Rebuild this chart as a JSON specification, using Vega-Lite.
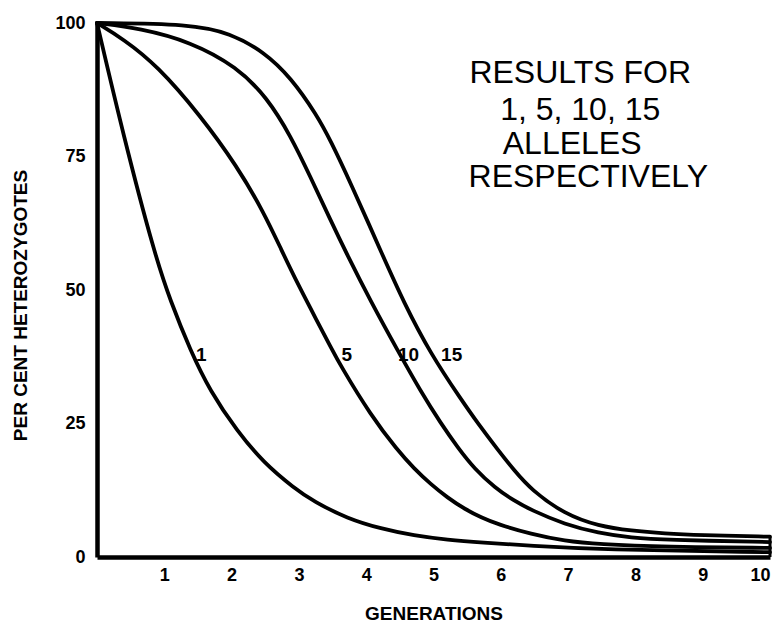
{
  "$schema": "https://vega.github.io/schema/vega-lite/v6.json",
  "width": 673,
  "height": 534,
  "autosize": {"type": "none"},
  "padding": {"left": 97, "top": 23, "right": 11, "bottom": 73},
  "background": "white",
  "config": {
    "view": {"stroke": null},
    "axis": {
      "grid": false,
      "ticks": false,
      "domainColor": "black",
      "domainWidth": 4.5,
      "labelColor": "black",
      "labelFont": "Liberation Sans",
      "labelFontWeight": "bold",
      "labelFontSize": 18,
      "titleFont": "Liberation Sans",
      "titleFontWeight": "bold",
      "titleFontSize": 19,
      "titleColor": "black"
    }
  },
  "datasets": {
    "curves": [
      {"alleles": "1", "g": 0, "pct": 100},
      {"alleles": "1", "g": 0.39, "pct": 79},
      {"alleles": "1", "g": 0.86, "pct": 56.5},
      {"alleles": "1", "g": 1.09, "pct": 48},
      {"alleles": "1", "g": 1.39, "pct": 38.6},
      {"alleles": "1", "g": 1.68, "pct": 31.1},
      {"alleles": "1", "g": 2.08, "pct": 23.6},
      {"alleles": "1", "g": 2.48, "pct": 17.6},
      {"alleles": "1", "g": 2.93, "pct": 12.9},
      {"alleles": "1", "g": 3.22, "pct": 10.4},
      {"alleles": "1", "g": 3.72, "pct": 7.2},
      {"alleles": "1", "g": 4.22, "pct": 5.3},
      {"alleles": "1", "g": 4.71, "pct": 4.0},
      {"alleles": "1", "g": 5.21, "pct": 3.2},
      {"alleles": "1", "g": 5.71, "pct": 2.7},
      {"alleles": "1", "g": 6.45, "pct": 2.1},
      {"alleles": "1", "g": 7.45, "pct": 1.4},
      {"alleles": "1", "g": 10, "pct": 0.9},

      {"alleles": "5", "g": 0, "pct": 100},
      {"alleles": "5", "g": 0.39, "pct": 97},
      {"alleles": "5", "g": 0.89, "pct": 92.1},
      {"alleles": "5", "g": 1.535, "pct": 82.7},
      {"alleles": "5", "g": 2.08, "pct": 73.2},
      {"alleles": "5", "g": 2.48, "pct": 64.5},
      {"alleles": "5", "g": 2.74, "pct": 57.5},
      {"alleles": "5", "g": 2.98, "pct": 51.2},
      {"alleles": "5", "g": 3.27, "pct": 44.2},
      {"alleles": "5", "g": 3.47, "pct": 39.4},
      {"alleles": "5", "g": 3.62, "pct": 35.8},
      {"alleles": "5", "g": 4.07, "pct": 26.5},
      {"alleles": "5", "g": 4.47, "pct": 19.9},
      {"alleles": "5", "g": 4.71, "pct": 16.6},
      {"alleles": "5", "g": 4.96, "pct": 13.6},
      {"alleles": "5", "g": 5.21, "pct": 11.1},
      {"alleles": "5", "g": 5.46, "pct": 9.0},
      {"alleles": "5", "g": 5.71, "pct": 7.4},
      {"alleles": "5", "g": 5.96, "pct": 6.1},
      {"alleles": "5", "g": 6.45, "pct": 4.3},
      {"alleles": "5", "g": 6.95, "pct": 3.0},
      {"alleles": "5", "g": 7.45, "pct": 2.4},
      {"alleles": "5", "g": 8.44, "pct": 1.9},
      {"alleles": "5", "g": 10, "pct": 1.7},

      {"alleles": "10", "g": 0, "pct": 100},
      {"alleles": "10", "g": 0.64, "pct": 99},
      {"alleles": "10", "g": 1.39, "pct": 96.5},
      {"alleles": "10", "g": 2.08, "pct": 91.8},
      {"alleles": "10", "g": 2.53, "pct": 86.0},
      {"alleles": "10", "g": 2.88, "pct": 78.8},
      {"alleles": "10", "g": 3.17, "pct": 71.2},
      {"alleles": "10", "g": 3.45, "pct": 63.6},
      {"alleles": "10", "g": 3.72, "pct": 56.5},
      {"alleles": "10", "g": 4.07, "pct": 47.8},
      {"alleles": "10", "g": 4.47, "pct": 38.6},
      {"alleles": "10", "g": 4.81, "pct": 31.0},
      {"alleles": "10", "g": 5.11, "pct": 25.0},
      {"alleles": "10", "g": 5.36, "pct": 20.5},
      {"alleles": "10", "g": 5.61, "pct": 16.5},
      {"alleles": "10", "g": 5.91, "pct": 13.0},
      {"alleles": "10", "g": 6.2, "pct": 10.5},
      {"alleles": "10", "g": 6.45, "pct": 8.8},
      {"alleles": "10", "g": 6.95, "pct": 6.1},
      {"alleles": "10", "g": 7.45, "pct": 4.5},
      {"alleles": "10", "g": 7.94, "pct": 3.6},
      {"alleles": "10", "g": 8.44, "pct": 3.2},
      {"alleles": "10", "g": 10, "pct": 2.8},

      {"alleles": "15", "g": 0, "pct": 100},
      {"alleles": "15", "g": 1.39, "pct": 99.8},
      {"alleles": "15", "g": 1.98, "pct": 98.1},
      {"alleles": "15", "g": 2.48, "pct": 94.6},
      {"alleles": "15", "g": 2.88, "pct": 89.8},
      {"alleles": "15", "g": 3.27, "pct": 82.7},
      {"alleles": "15", "g": 3.47, "pct": 78.0},
      {"alleles": "15", "g": 3.77, "pct": 70.0},
      {"alleles": "15", "g": 4.22, "pct": 57.2},
      {"alleles": "15", "g": 4.56, "pct": 47.6},
      {"alleles": "15", "g": 4.96, "pct": 38.0},
      {"alleles": "15", "g": 5.41, "pct": 29.5},
      {"alleles": "15", "g": 5.66, "pct": 25.0},
      {"alleles": "15", "g": 5.96, "pct": 20.0},
      {"alleles": "15", "g": 6.2, "pct": 16.2},
      {"alleles": "15", "g": 6.45, "pct": 12.6},
      {"alleles": "15", "g": 6.95, "pct": 8.0},
      {"alleles": "15", "g": 7.45, "pct": 5.8},
      {"alleles": "15", "g": 7.94, "pct": 4.9},
      {"alleles": "15", "g": 8.44, "pct": 4.4},
      {"alleles": "15", "g": 8.94, "pct": 4.1},
      {"alleles": "15", "g": 10, "pct": 3.8}
    ],
    "endbar": [
      {"g": 10, "pct": 0, "pct2": 3.8}
    ],
    "curveLabels": [
      {"t": "1", "g": 1.55, "pct": 37.9},
      {"t": "5", "g": 3.71, "pct": 37.9},
      {"t": "10", "g": 4.63, "pct": 37.9},
      {"t": "15", "g": 5.27, "pct": 37.9}
    ],
    "note": [
      {"t": "RESULTS FOR", "g": 7.18, "pct": 90.6},
      {"t": "1, 5, 10, 15", "g": 7.18, "pct": 83.7},
      {"t": "ALLELES", "g": 7.06, "pct": 77.3},
      {"t": "RESPECTIVELY", "g": 7.3, "pct": 71.2}
    ]
  },
  "encoding": {
    "x": {
      "field": "g",
      "type": "quantitative",
      "scale": {"domain": [0, 10], "nice": false, "zero": false},
      "axis": {
        "values": [1, 2, 3, 4, 5, 6, 7, 8, 9, 10],
        "title": "GENERATIONS",
        "labelPadding": 9,
        "titleY": 56,
        "titleBaseline": "middle"
      }
    },
    "y": {
      "field": "pct",
      "type": "quantitative",
      "scale": {"domain": [0, 100], "nice": false},
      "axis": {
        "values": [0, 25, 50, 75, 100],
        "title": "PER CENT HETEROZYGOTES",
        "labelPadding": 12,
        "titleX": -77,
        "titleY": 282,
        "titleAngle": -90,
        "titleAlign": "center",
        "titleBaseline": "middle"
      }
    }
  },
  "layer": [
    {
      "data": {"name": "curves"},
      "mark": {"type": "line", "color": "black", "strokeWidth": 3.8, "interpolate": "basis", "strokeCap": "round"},
      "encoding": {"detail": {"field": "alleles"}}
    },
    {
      "data": {"name": "endbar"},
      "mark": {"type": "rule", "color": "black", "strokeWidth": 3},
      "encoding": {"y2": {"field": "pct2"}}
    },
    {
      "data": {"name": "curveLabels"},
      "mark": {"type": "text", "color": "black", "font": "Liberation Sans", "fontWeight": "bold", "fontSize": 19, "align": "center", "baseline": "middle"},
      "encoding": {"text": {"field": "t"}}
    },
    {
      "data": {"name": "note"},
      "mark": {"type": "text", "color": "black", "font": "Liberation Sans", "fontSize": 32, "align": "center", "baseline": "middle"},
      "encoding": {"text": {"field": "t"}}
    }
  ]
}
